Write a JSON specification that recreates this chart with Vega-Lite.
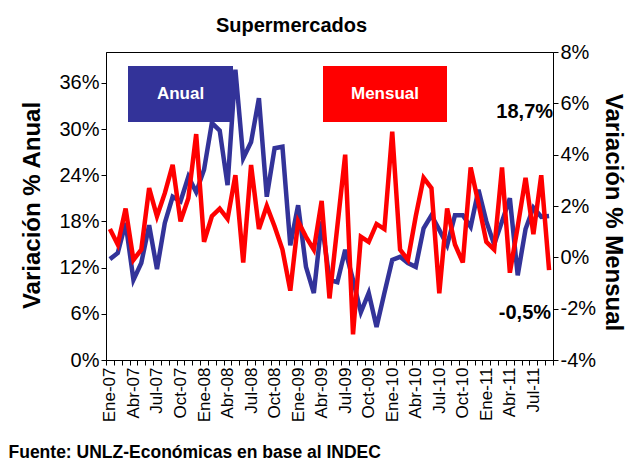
{
  "$schema": "https://vega.github.io/schema/vega-lite/v6.json",
  "width": 447,
  "height": 308,
  "autosize": {"type": "none"},
  "padding": {"left": 106, "top": 52, "right": 81, "bottom": 103},
  "background": "white",
  "config": {
    "font": "Liberation Sans",
    "view": {"stroke": "black", "strokeWidth": 1},
    "axis": {"domainColor": "black", "tickColor": "black", "labelColor": "black", "titleColor": "black", "grid": false, "labelFont": "Liberation Sans", "titleFont": "Liberation Sans"}
  },
  "data": {"values": [
    {"mes": "Ene-07", "Anual": 13.1, "Mensual": 1.1},
    {"mes": "Feb-07", "Anual": 13.9, "Mensual": 0.5},
    {"mes": "Mar-07", "Anual": 17.8, "Mensual": 1.9},
    {"mes": "Abr-07", "Anual": 10.4, "Mensual": -0.1},
    {"mes": "May-07", "Anual": 12.6, "Mensual": 0.3},
    {"mes": "Jun-07", "Anual": 17.5, "Mensual": 2.7},
    {"mes": "Jul-07", "Anual": 11.8, "Mensual": 1.6},
    {"mes": "Ago-07", "Anual": 17.8, "Mensual": 2.5},
    {"mes": "Sep-07", "Anual": 21.2, "Mensual": 3.6},
    {"mes": "Oct-07", "Anual": 20.6, "Mensual": 1.4},
    {"mes": "Nov-07", "Anual": 23.8, "Mensual": 2.3},
    {"mes": "Dic-07", "Anual": 21.8, "Mensual": 4.8},
    {"mes": "Ene-08", "Anual": 24.7, "Mensual": 0.6},
    {"mes": "Feb-08", "Anual": 30.8, "Mensual": 1.6},
    {"mes": "Mar-08", "Anual": 29.8, "Mensual": 1.9},
    {"mes": "Abr-08", "Anual": 22.7, "Mensual": 1.5},
    {"mes": "May-08", "Anual": 37.7, "Mensual": 3.2},
    {"mes": "Jun-08", "Anual": 26.2, "Mensual": -0.2},
    {"mes": "Jul-08", "Anual": 28.3, "Mensual": 3.6},
    {"mes": "Ago-08", "Anual": 34.0, "Mensual": 1.1},
    {"mes": "Sep-08", "Anual": 21.2, "Mensual": 2.0},
    {"mes": "Oct-08", "Anual": 27.5, "Mensual": 1.2},
    {"mes": "Nov-08", "Anual": 27.7, "Mensual": 0.3},
    {"mes": "Dic-08", "Anual": 14.9, "Mensual": -1.3},
    {"mes": "Ene-09", "Anual": 20.1, "Mensual": 1.4},
    {"mes": "Feb-09", "Anual": 12.1, "Mensual": 0.8},
    {"mes": "Mar-09", "Anual": 8.7, "Mensual": 0.3},
    {"mes": "Abr-09", "Anual": 18.0, "Mensual": 2.2},
    {"mes": "May-09", "Anual": 10.4, "Mensual": -1.6},
    {"mes": "Jun-09", "Anual": 10.1, "Mensual": 1.2},
    {"mes": "Jul-09", "Anual": 14.3, "Mensual": 4.0},
    {"mes": "Ago-09", "Anual": 10.4, "Mensual": -3.0},
    {"mes": "Sep-09", "Anual": 6.2, "Mensual": 0.8},
    {"mes": "Oct-09", "Anual": 8.7, "Mensual": 0.6},
    {"mes": "Nov-09", "Anual": 4.3, "Mensual": 1.3},
    {"mes": "Dic-09", "Anual": 8.7, "Mensual": 1.1},
    {"mes": "Ene-10", "Anual": 13.0, "Mensual": 4.9},
    {"mes": "Feb-10", "Anual": 13.4, "Mensual": 0.3},
    {"mes": "Mar-10", "Anual": 12.6, "Mensual": -0.1},
    {"mes": "Abr-10", "Anual": 12.1, "Mensual": 1.6},
    {"mes": "May-10", "Anual": 17.1, "Mensual": 3.1},
    {"mes": "Jun-10", "Anual": 18.8, "Mensual": 2.7},
    {"mes": "Jul-10", "Anual": 16.9, "Mensual": -1.4},
    {"mes": "Ago-10", "Anual": 14.9, "Mensual": 1.9},
    {"mes": "Sep-10", "Anual": 18.8, "Mensual": 0.5},
    {"mes": "Oct-10", "Anual": 18.8, "Mensual": -0.2},
    {"mes": "Nov-10", "Anual": 17.3, "Mensual": 3.5},
    {"mes": "Dic-10", "Anual": 22.1, "Mensual": 2.1},
    {"mes": "Ene-11", "Anual": 18.0, "Mensual": 0.6},
    {"mes": "Feb-11", "Anual": 15.0, "Mensual": 0.3},
    {"mes": "Mar-11", "Anual": 18.0, "Mensual": 3.5},
    {"mes": "Abr-11", "Anual": 21.0, "Mensual": -0.6},
    {"mes": "May-11", "Anual": 11.0, "Mensual": 1.2},
    {"mes": "Jun-11", "Anual": 17.0, "Mensual": 3.1},
    {"mes": "Jul-11", "Anual": 19.8, "Mensual": 0.9},
    {"mes": "Ago-11", "Anual": 18.6, "Mensual": 3.2},
    {"mes": "Sep-11", "Anual": 18.7, "Mensual": -0.5}
  ]},
  "layer": [
    {
      "transform": [{"fold": ["Anual"], "as": ["serie", "valor"]}],
      "encoding": {
        "x": {
          "field": "mes", "type": "ordinal", "sort": null, "bandPosition": 0.5,
          "scale": {"type": "band", "paddingInner": 0, "paddingOuter": 0},
          "axis": {
            "orient": "bottom",
            "labelAngle": 270, "labelAlign": "right", "labelBaseline": "middle",
            "labelFontSize": 17, "labelPadding": 2, "tickSize": 5, "tickBand": "extent",
            "labelOverlap": false,
            "labelExpr": "indexof(['Ene','Abr','Jul','Oct'], slice(datum.label,0,3)) >= 0 ? datum.label : ''",
            "title": "Fuente: UNLZ-Económicas en base al INDEC",
            "titleFontSize": 17.5, "titleFontWeight": "bold", "titleAlign": "left", "titleAnchor": "start",
            "titleX": -98, "titleY": 92, "titleBaseline": "middle"
          }
        }
      },
      "layer": [
        {
          "mark": {"type": "line", "strokeWidth": 4.5},
          "encoding": {
            "y": {
              "field": "valor", "type": "quantitative",
              "scale": {"domain": [0, 40], "nice": false},
              "axis": {
                "orient": "left", "values": [0, 6, 12, 18, 24, 30, 36],
                "labelExpr": "datum.value + '%'", "labelFontSize": 20, "tickSize": 5, "labelPadding": 2,
                "title": "Variación % Anual", "titleFontSize": 24, "titleFontWeight": "bold",
                "titleAngle": 270, "titleX": -74, "titleY": 153, "titleAlign": "center", "titleBaseline": "middle"
              }
            },
            "color": {
              "field": "serie", "type": "nominal",
              "scale": {"domain": ["Anual"], "range": ["#333399"]},
              "legend": {
                "orient": "none", "legendX": -6, "legendY": -38.5, "direction": "horizontal", "title": null,
                "symbolType": "M-1,0H1", "symbolSize": 11025, "symbolStrokeWidth": 56,
                "labelOffset": -80.5, "labelAlign": "center", "labelColor": "white", "labelFontSize": 17,
                "labelFontWeight": "bold", "labelBaseline": "middle", "padding": 0, "symbolOpacity": 1
              }
            }
          }
        },
        {
          "transform": [{"filter": "datum.mes === 'Sep-11'"}],
          "mark": {"type": "text", "text": "18,7%", "align": "right", "baseline": "middle", "dx": 4, "dy": -104, "fontSize": 20, "fontWeight": "bold", "color": "black"},
          "encoding": {"y": {"field": "valor", "type": "quantitative"}}
        }
      ]
    },
    {
      "transform": [{"fold": ["Mensual"], "as": ["serie", "valor"]}],
      "encoding": {
        "x": {
          "field": "mes", "type": "ordinal", "sort": null, "bandPosition": 0.5,
          "scale": {"type": "band", "paddingInner": 0, "paddingOuter": 0},
          "axis": {
            "orient": "top", "labels": false, "ticks": false, "domain": false,
            "title": "Supermercados", "titleFontSize": 20, "titleFontWeight": "bold",
            "titleX": 185, "titleY": -27, "titleAlign": "center", "titleBaseline": "middle"
          }
        }
      },
      "layer": [
        {
          "mark": {"type": "line", "strokeWidth": 4.5},
          "encoding": {
            "y": {
              "field": "valor", "type": "quantitative",
              "scale": {"domain": [-4, 8], "nice": false, "zero": false},
              "axis": {
                "orient": "right", "values": [-4, -2, 0, 2, 4, 6, 8],
                "labelExpr": "datum.value + '%'", "labelFontSize": 20, "tickSize": 5, "labelPadding": 2,
                "title": "Variación % Mensual", "titleFontSize": 24, "titleFontWeight": "bold",
                "titleAngle": 90, "titleX": 59, "titleY": 160, "titleAlign": "center", "titleBaseline": "middle"
              }
            },
            "color": {
              "field": "serie", "type": "nominal",
              "scale": {"domain": ["Mensual"], "range": ["#FF0000"]},
              "legend": {
                "orient": "none", "legendX": 189, "legendY": -48, "direction": "horizontal", "title": null,
                "symbolType": "M-1,0H1", "symbolSize": 15376, "symbolStrokeWidth": 56,
                "labelOffset": -90, "labelAlign": "center", "labelColor": "white", "labelFontSize": 17,
                "labelFontWeight": "bold", "labelBaseline": "middle", "padding": 0, "symbolOpacity": 1
              }
            }
          }
        },
        {
          "transform": [{"filter": "datum.mes === 'Sep-11'"}],
          "mark": {"type": "text", "text": "-0,5%", "align": "right", "baseline": "middle", "dx": 2, "dy": 43, "fontSize": 20, "fontWeight": "bold", "color": "black"},
          "encoding": {"y": {"field": "valor", "type": "quantitative"}}
        }
      ]
    }
  ],
  "resolve": {"scale": {"y": "independent", "color": "independent"}, "axis": {"x": "independent"}}
}
